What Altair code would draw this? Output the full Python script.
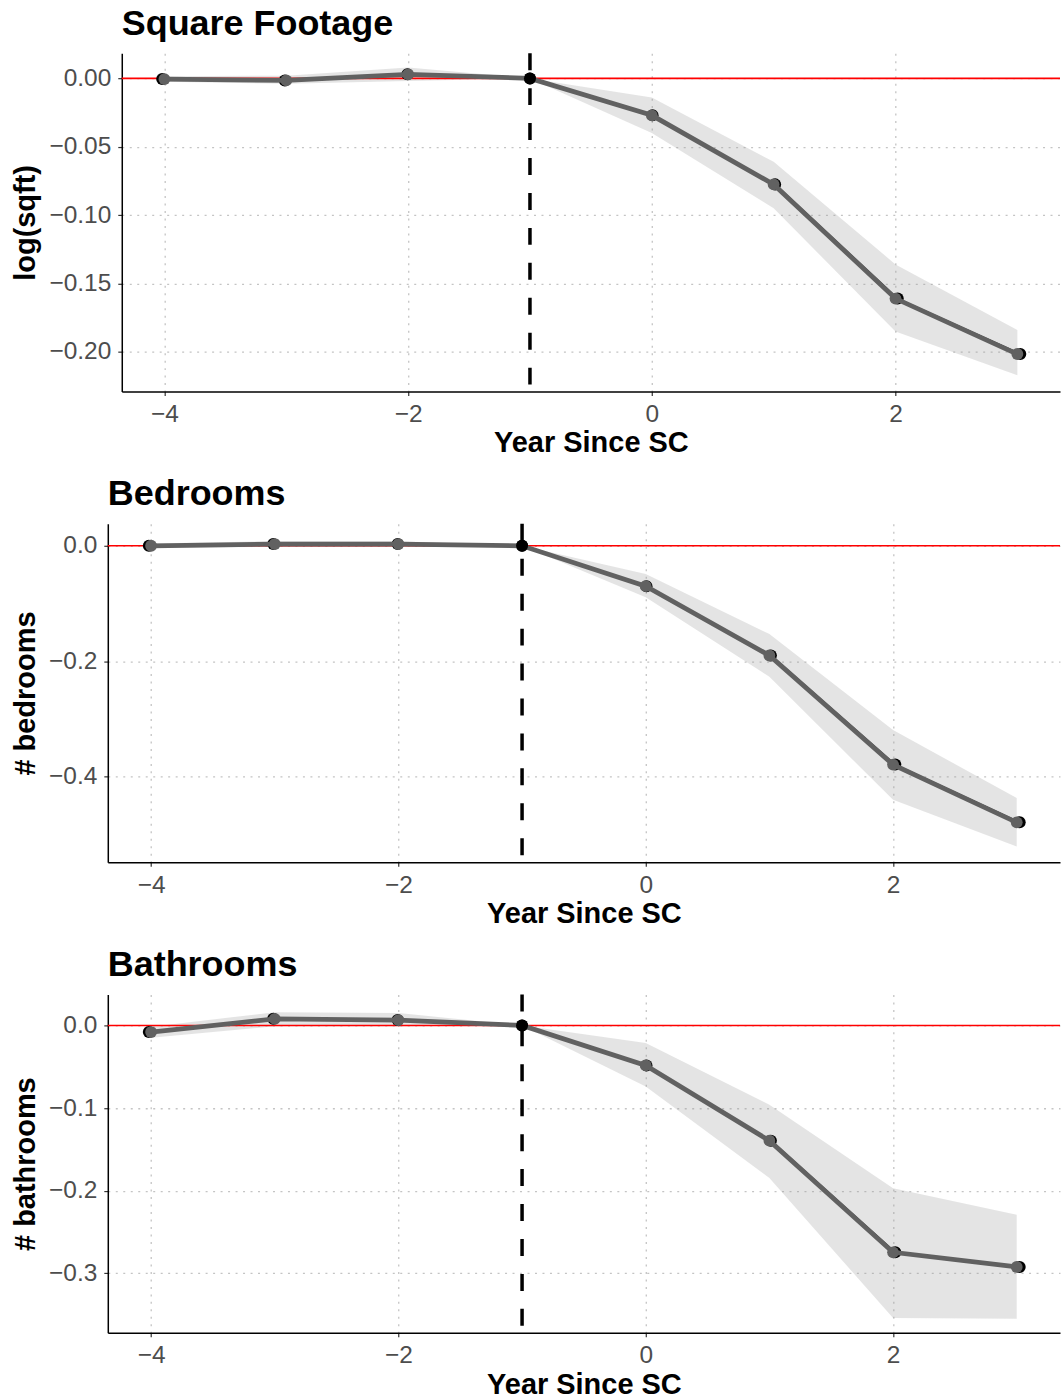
import altair as alt
import pandas as pd

# Event-study estimates by year relative to the SC event
years = [-4, -3, -2, -1, 0, 1, 2, 3]

sqft_est = [-0.0005, -0.0015, 0.003, 0.0, -0.027, -0.0775, -0.161, -0.2015]
sqft_lo = [-0.0025, -0.004, -0.002, 0.0, -0.040, -0.095, -0.185, -0.217]
sqft_hi = [0.0015, 0.002, 0.008, 0.0, -0.014, -0.061, -0.136, -0.184]

bed_est = [0.000, 0.003, 0.003, 0.0, -0.070, -0.190, -0.379, -0.479]
bed_lo = [-0.004, -0.002, -0.002, 0.0, -0.089, -0.227, -0.440, -0.521]
bed_hi = [0.004, 0.008, 0.008, 0.0, -0.049, -0.153, -0.319, -0.437]

bath_est = [-0.008, 0.008, 0.0065, 0.0, -0.0484, -0.1395, -0.2746, -0.2923]
bath_lo = [-0.015, -0.001, -0.001, 0.0, -0.0738, -0.1847, -0.354, -0.355]
bath_hi = [-0.0015, 0.016, 0.015, 0.0, -0.0214, -0.096, -0.197, -0.229]

x_ticks = [-4, -2, 0, 2]
event_year = -1

FONT = "Liberation Sans"
GREY = "#616161"


def spacer():
    # invisible 1px cell: anchors each row at its own left edge
    return alt.Chart(pd.DataFrame({"s": [0]})).mark_point(opacity=0).encode(
        x=alt.X("s:Q", axis=None), y=alt.Y("s:Q", axis=None)
    ).properties(width=1, height=1)


def panel(title, ytitle, est, lo, hi, ydomain, yticks, yfmt, width, height):
    df = pd.DataFrame({"year": years, "est": est, "lo": lo, "hi": hi})
    base = alt.Chart(df).transform_calculate(
        xs="datum.year + (datum.year + 1) * 0.006"
    )
    xscale = alt.Scale(domain=[-4.35, 3.35], nice=False, zero=False)
    yscale = alt.Scale(domain=ydomain, nice=False, zero=False)
    xaxis = alt.Axis(values=x_ticks, format="d", title="Year Since SC")
    yaxis = alt.Axis(values=yticks, format=yfmt, title=ytitle)

    ribbon = base.mark_area(color="#9a9a9a", opacity=0.27).encode(
        x=alt.X("year:Q", scale=xscale, axis=xaxis),
        y=alt.Y("lo:Q", scale=yscale, axis=yaxis),
        y2="hi:Q",
    )
    zero = alt.Chart(pd.DataFrame({"z": [0]})).mark_rule(
        color="#ff0000", strokeWidth=1.6
    ).encode(y=alt.Y("z:Q", scale=yscale))
    vline = alt.Chart(pd.DataFrame({"v": [event_year]})).mark_rule(
        color="black", strokeWidth=3.5, strokeDash=[17, 18]
    ).encode(x=alt.X("v:Q", scale=xscale))
    black_line = base.mark_line(color="black", strokeWidth=1.5).encode(
        x=alt.X("xs:Q", scale=xscale), y=alt.Y("est:Q", scale=yscale)
    )
    black_pts = base.mark_circle(color="black", size=145, opacity=1).encode(
        x=alt.X("xs:Q", scale=xscale), y=alt.Y("est:Q", scale=yscale)
    )
    grey_line = base.mark_line(color=GREY, strokeWidth=4.8).encode(
        x=alt.X("year:Q", scale=xscale), y=alt.Y("est:Q", scale=yscale)
    )
    grey_pts = base.transform_filter(f"datum.year != {event_year}").mark_circle(
        color=GREY, size=140, opacity=1
    ).encode(x=alt.X("year:Q", scale=xscale), y=alt.Y("est:Q", scale=yscale))
    event_pt = base.transform_filter(f"datum.year == {event_year}").mark_circle(
        color="black", size=145, opacity=1
    ).encode(x=alt.X("year:Q", scale=xscale), y=alt.Y("est:Q", scale=yscale))

    layered = alt.layer(
        ribbon, zero, vline, black_line, black_pts, grey_line, grey_pts, event_pt
    ).properties(
        width=width,
        height=height,
        title=alt.TitleParams(
            title, anchor="start", frame="group", fontSize=36, font=FONT,
            fontWeight="bold", color="black", offset=9,
        ),
    )
    return alt.hconcat(spacer(), layered, spacing=0)


p1 = panel("Square Footage", "log(sqft)", sqft_est, sqft_lo, sqft_hi,
           [-0.229, 0.0184], [0.0, -0.05, -0.10, -0.15, -0.20], ".2f", 940, 339)
p2 = panel("Bedrooms", "# bedrooms", bed_est, bed_lo, bed_hi,
           [-0.548, 0.038], [0.0, -0.2, -0.4], ".1f", 954, 339)
p3 = panel("Bathrooms", "# bathrooms", bath_est, bath_lo, bath_hi,
           [-0.372, 0.0375], [0.0, -0.1, -0.2, -0.3], ".1f", 954, 339)

chart = alt.vconcat(p1, p2, p3, spacing=17.5).properties(
    padding={"left": 4, "top": 4, "right": 0, "bottom": 0}
).configure_view(stroke=None).configure_axis(
    labelFont=FONT, labelFontSize=24.5, labelColor="#4d4d4d",
    titleFont=FONT, titleFontSize=29, titleFontWeight="bold", titleColor="black",
    domainColor="black", domainWidth=1.5,
    tickColor="#333333", tickSize=4, tickWidth=1.2,
    grid=True, gridColor="#c4c4c4", gridDash=[2, 5.5], gridWidth=1.3,
    labelPadding=7,
).configure_axisX(titlePadding=3).configure_axisY(titlePadding=8.5)

chart.save("out.html", embed_options={"renderer": "svg", "actions": False})
